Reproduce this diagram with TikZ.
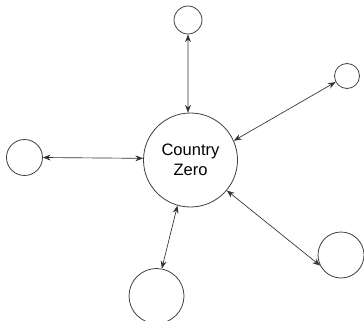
\documentclass[tikz,border=0pt]{standalone}
\usepackage{fontspec}
\setmainfont{Liberation Sans}
\usetikzlibrary{arrows.meta}

\tikzset{
  country/.style={circle,draw=black!75,line width=0.6pt,inner sep=0pt},
  link/.style={draw=black!80,line width=0.5pt,{Stealth[length=5.8pt,width=4.4pt]}-{Stealth[length=5.8pt,width=4.4pt]}}
}

\begin{document}
\begin{tikzpicture}[x=0.75pt,y=-0.75pt]
\useasboundingbox (0,0) rectangle (364,321);
\clip (0,0) rectangle (364,321);
% centre
\node[country,minimum size=70.5pt,align=center,font=\fontsize{12.4}{15}\selectfont] (zero) at (190.5,160) {Country\\Zero};
% the others
\node[country,minimum size=21pt] (top) at (188,20) {};
\node[country,minimum size=18.75pt] (upright) at (347,76) {};
\node[country,minimum size=27pt] (left) at (24.5,157.5) {};
\node[country,minimum size=34.5pt] (lowright) at (341,255) {};
\node[country,minimum size=41.25pt] (bottom) at (156.5,296) {};
% links
\draw[link] (zero.93) -- (top.south);
\draw[link] (zero.24) -- (upright.208);
\draw[link] (zero.178) -- (left.east);
\draw[link] (zero.-40) -- (lowright.207);
\draw[link] (zero.254) -- (bottom.79);
\end{tikzpicture}
\end{document}
